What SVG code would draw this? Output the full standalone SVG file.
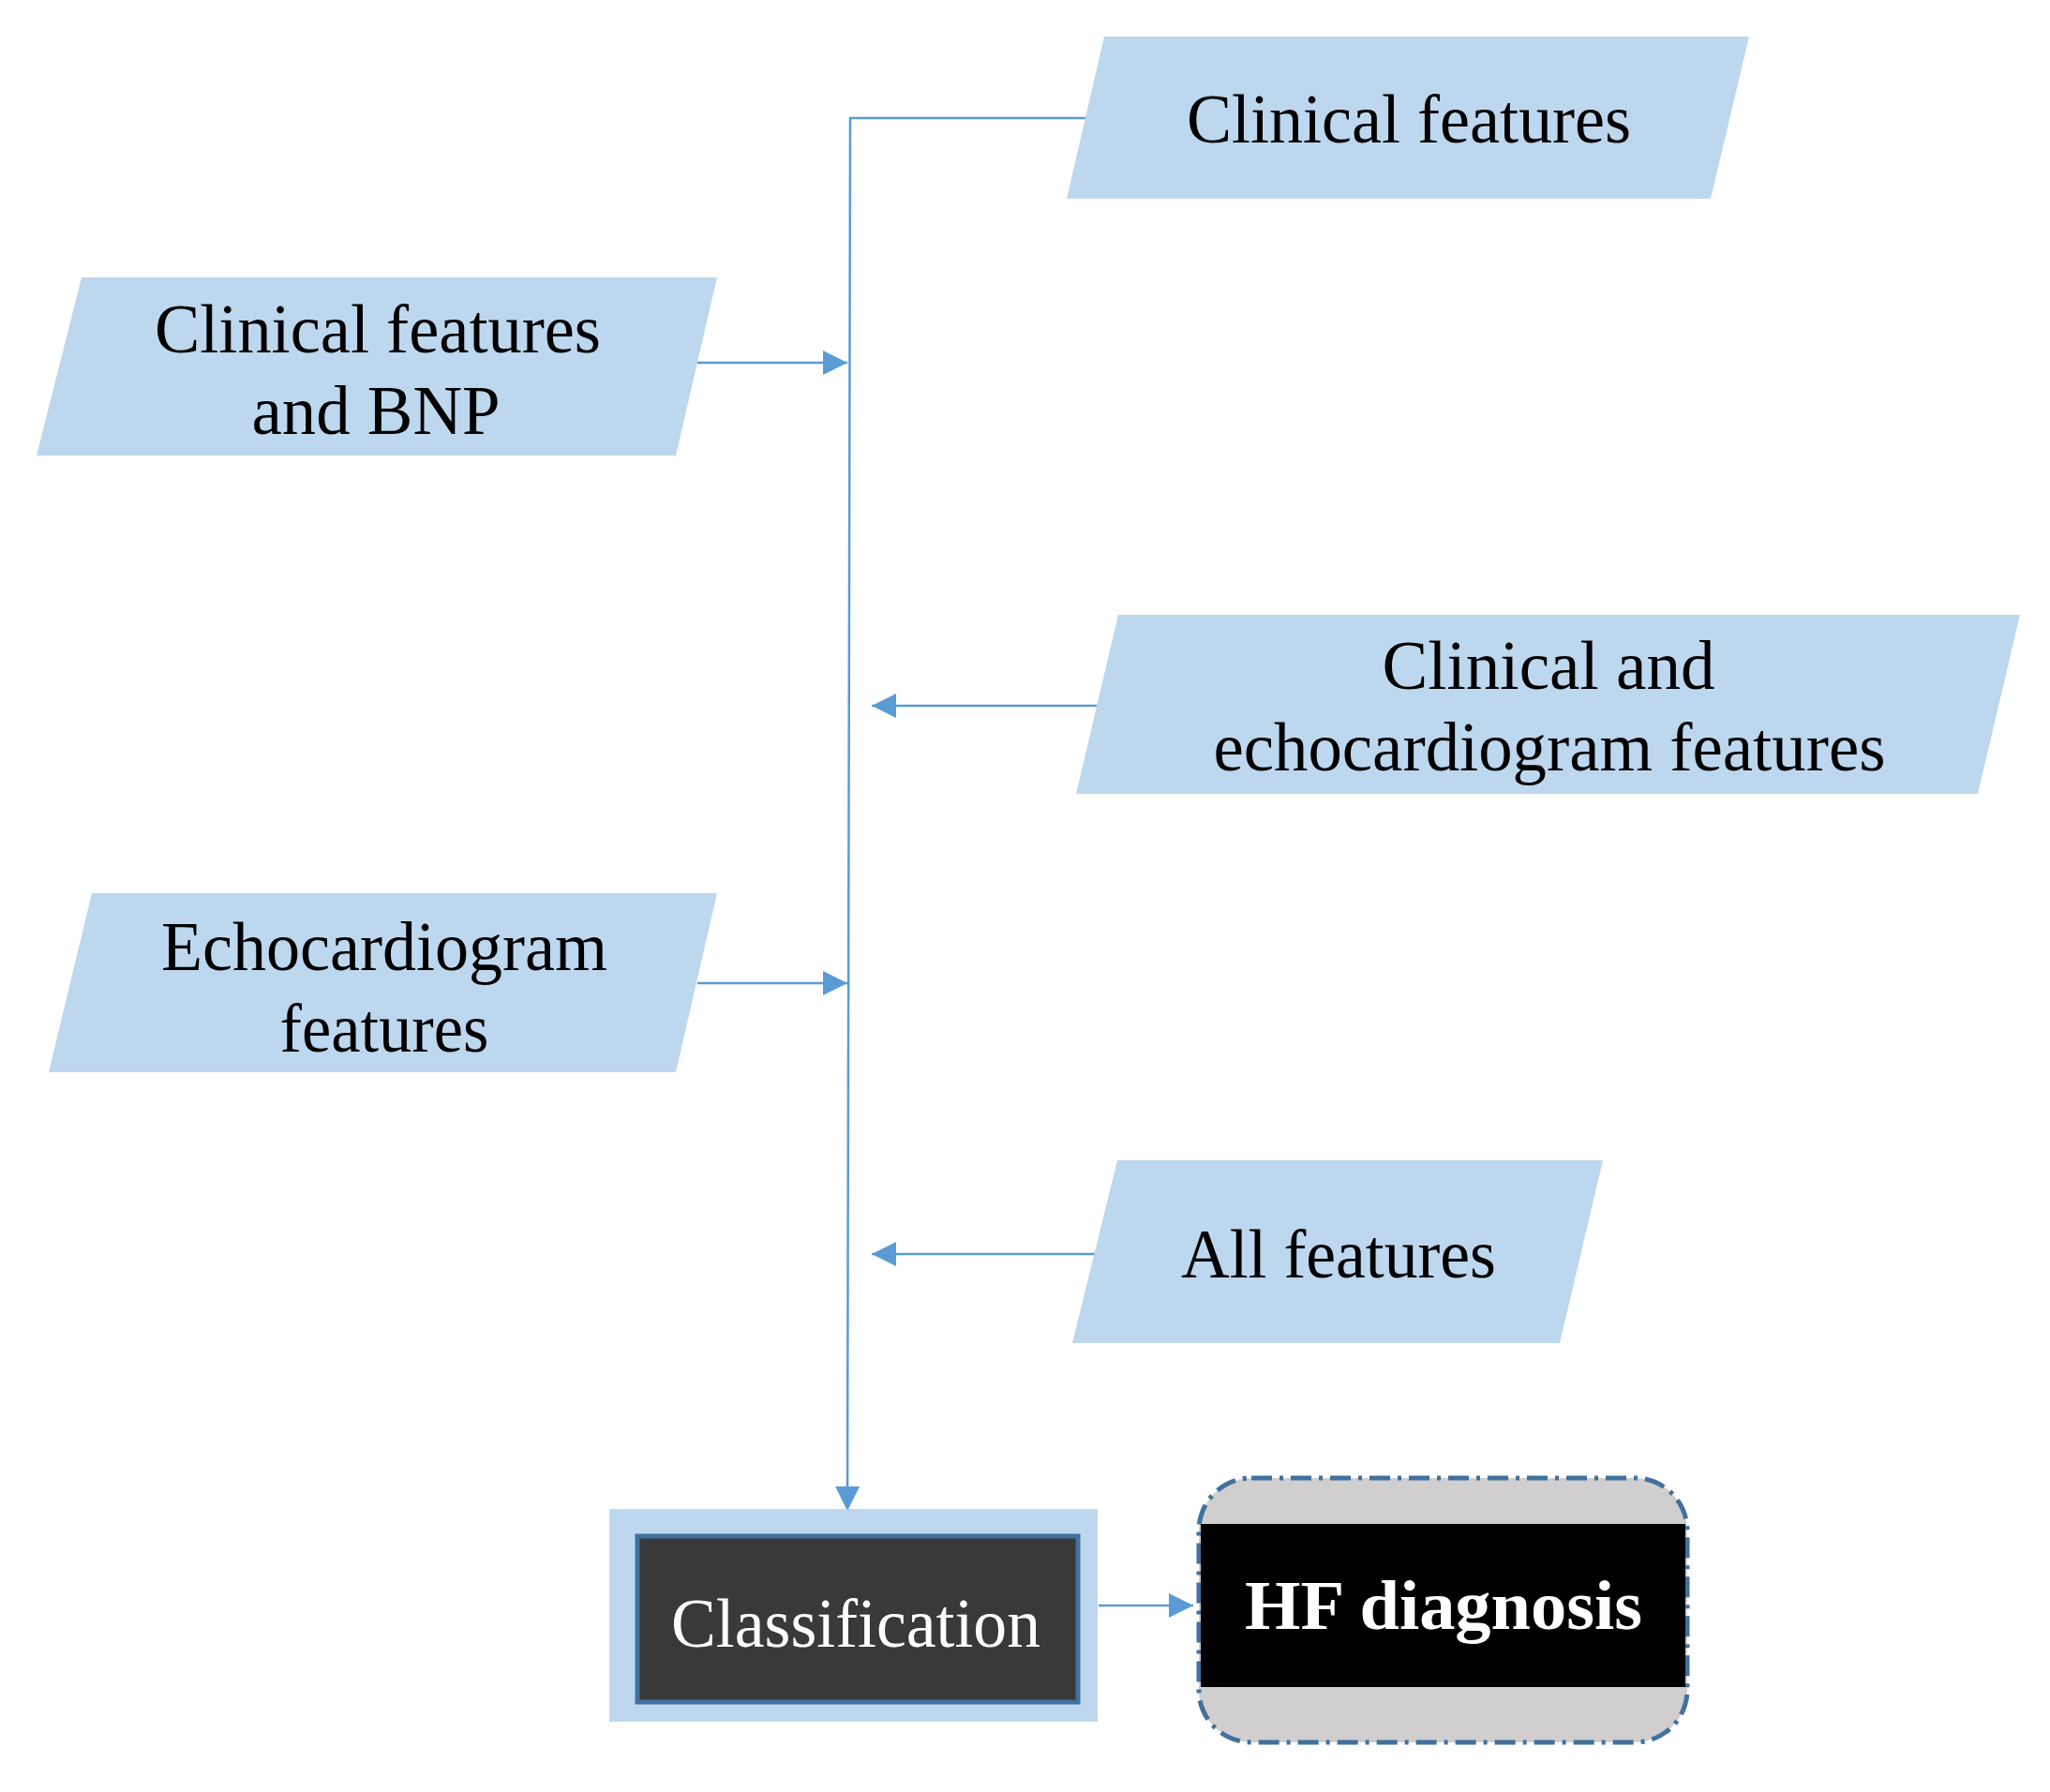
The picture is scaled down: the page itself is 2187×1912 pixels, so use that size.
<svg xmlns="http://www.w3.org/2000/svg" width="2187" height="1912" viewBox="0 0 2187 1912">
<style>
.para{fill:#bdd7ee}
.t{font-family:"Liberation Serif","Times New Roman",serif;font-size:74px;fill:#000;text-anchor:middle}
.w{fill:#fff}
.c{stroke:#5b9bd5;stroke-width:2.5;fill:none}
</style>
<defs>
<marker id="ah" viewBox="0 0 10 10" refX="10" refY="5" markerWidth="9" markerHeight="9" markerUnits="userSpaceOnUse" orient="auto">
<path d="M0,0 L10,5 L0,10 z" fill="#5b9bd5"/>
</marker>
<marker id="ab" viewBox="0 0 10 10" refX="10" refY="5" markerWidth="26" markerHeight="26" markerUnits="userSpaceOnUse" orient="auto">
<path d="M0,0 L10,5 L0,10 z" fill="#5b9bd5"/>
</marker>
</defs>
<rect width="2187" height="1912" fill="#fff"/>
<g id="connectors">
<polyline class="c" points="1161,126 907,126 904,1612" marker-end="url(#ab)"/>
<line class="c" x1="744" y1="387" x2="904" y2="387" marker-end="url(#ab)"/>
<line class="c" x1="744" y1="1049" x2="904" y2="1049" marker-end="url(#ab)"/>
<line class="c" x1="1172" y1="753" x2="930" y2="753" marker-end="url(#ab)"/>
<line class="c" x1="1169" y1="1338" x2="930" y2="1338" marker-end="url(#ab)"/>
<line class="c" x1="1172" y1="1713" x2="1273" y2="1713" marker-end="url(#ab)"/>
</g>
<g id="n-clinical">
<polygon class="para" points="1178,39 1866,39 1825,212 1138,212"/>
<text class="t" x="1503" y="152" textLength="474" lengthAdjust="spacingAndGlyphs">Clinical features</text>
</g>
<g id="n-bnp">
<polygon class="para" points="87,296 765,296 721,486 39,486"/>
<text class="t" x="403" y="376" textLength="476" lengthAdjust="spacingAndGlyphs">Clinical features</text>
<text class="t" x="401" y="463" textLength="265" lengthAdjust="spacingAndGlyphs">and BNP</text>
</g>
<g id="n-clinecho">
<polygon class="para" points="1193,656 2155,656 2110,847 1148,847"/>
<text class="t" x="1652" y="735" textLength="355" lengthAdjust="spacingAndGlyphs">Clinical and</text>
<text class="t" x="1653" y="822" textLength="717" lengthAdjust="spacingAndGlyphs">echocardiogram features</text>
</g>
<g id="n-echo">
<polygon class="para" points="98,953 765,953 721,1144 52,1144"/>
<text class="t" x="410" y="1035" textLength="476" lengthAdjust="spacingAndGlyphs">Echocardiogram</text>
<text class="t" x="410" y="1122" textLength="223" lengthAdjust="spacingAndGlyphs">features</text>
</g>
<g id="n-all">
<polygon class="para" points="1192,1238 1710,1238 1664,1433 1144,1433"/>
<text class="t" x="1428" y="1363" textLength="336" lengthAdjust="spacingAndGlyphs">All features</text>
</g>
<g id="n-class">
<rect x="650" y="1610" width="521" height="227" fill="#bdd7ee"/>
<rect x="680" y="1639" width="470" height="177" fill="#3a3838" stroke="#41719c" stroke-width="5"/>
<text class="t w" x="913" y="1757" textLength="394" lengthAdjust="spacingAndGlyphs">Classification</text>
</g>
<g id="n-hf">
<rect x="1279" y="1577" width="521" height="282" rx="56" fill="#d0cecf" stroke="#41719c" stroke-width="5" stroke-dasharray="22,8,4,8"/>
<rect x="1281" y="1626" width="517" height="174" fill="#000"/>
<text class="t w" x="1540" y="1738" font-weight="bold" textLength="424" lengthAdjust="spacingAndGlyphs">HF diagnosis</text>
</g>
</svg>
